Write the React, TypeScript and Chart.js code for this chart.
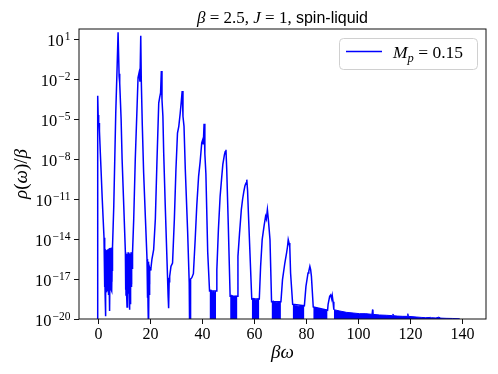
import React, { useEffect, useRef } from "react";
import { Chart, registerables } from "chart.js";

Chart.register(...registerables);

// ---- Data (βω and log10 of ρ(ω)/β) ----
const bw: number[] = [
  0.0, 0.08, 0.25, 0.45, 0.6, 0.75, 1.1, 1.4, 1.8, 2.17, 2.5, 2.68,
  2.76, 2.84, 2.92, 3.0, 3.08, 3.16, 3.24, 3.32, 3.4, 3.48, 3.56, 3.64, 3.72, 3.8, 3.88, 3.96,
  4.04, 4.12, 4.2, 4.28, 4.36, 4.44, 4.52, 4.6, 4.68, 4.76, 4.84, 4.92, 5.0, 5.08, 5.16, 5.24,
  5.32, 5.4, 5.48, 5.56, 5.64, 5.72, 5.8,
  6.25, 6.63, 7.0, 7.5, 7.9, 8.3, 8.45, 8.6, 9.06, 9.44, 10.08, 10.7,
  10.78, 10.86, 10.94, 11.02, 11.1, 11.18, 11.26, 11.34, 11.42, 11.5, 11.58, 11.66, 11.74, 11.82,
  11.9, 11.98, 12.06, 12.14, 12.22, 12.3, 12.38, 12.46, 12.54, 12.62, 12.7, 12.78, 12.86, 12.94,
  13.02, 13.1, 13.18, 13.3, 13.45,
  13.9, 14.5, 15.2, 15.56, 15.94, 16.3, 16.6, 16.8, 17.2, 17.7, 18.4, 19.0,
  19.08, 19.16, 19.24, 19.32, 19.4, 19.48, 19.56, 19.64, 19.72, 19.8, 19.88, 19.96, 20.04, 20.12,
  20.3, 20.5,
  20.9, 21.55, 22.2, 22.8, 23.5, 23.85, 24.2, 24.5, 24.75, 25.1, 25.4, 26.0, 26.9, 27.1, 27.25,
  27.35, 27.5, 27.7, 28.2, 28.8, 29.5, 30.1, 30.7, 31.2, 31.75, 32.1, 32.5, 32.8, 33.2, 33.7,
  34.6, 35.2, 35.28, 35.36, 35.44, 35.52, 35.6, 35.68, 35.76, 35.84, 36.2, 36.8, 37.5, 38.1,
  38.8, 39.4, 40.0, 40.4, 40.6, 40.9, 41.2, 41.6, 42.3, 43.0,
  45.5, 45.8, 46.4, 47.06, 47.7, 48.1, 48.7, 49.0, 49.3, 49.6, 50.2, 50.9,
  53.7, 53.9, 54.5, 55.2, 55.7, 56.2, 56.6, 57.0, 57.3, 57.6, 57.9, 58.5, 59.2,
  62.1, 62.6, 63.2, 63.9, 64.5, 64.8, 65.2, 65.6, 66.2, 66.8,
  70.4, 71.0, 71.9, 72.6, 72.9, 73.2, 73.5, 73.8, 74.1, 74.9,
  79.4, 80.0, 80.8, 81.1, 81.5, 81.8, 82.1, 82.8,
  88.3, 88.5, 89.1, 89.5, 89.9, 90.1, 90.4, 90.7,
];

const logRho: number[] = [
  -25, -3.25, -4.7, -5.5, -5.3, -5.9, -7.6, -9.0, -10.9, -12.5, -13.9, -14.7,
  -17.6, -15.0, -18.1, -14.9, -16.9, -19.8, -15.1, -17.8, -14.9, -17.2, -15.0, -18.0, -14.8, -16.5, -15.2, -17.9,
  -14.9, -17.4, -15.0, -18.2, -14.8, -16.8, -15.1, -17.7, -14.7, -19.4, -15.0, -17.5, -14.8, -16.9, -14.9, -17.8,
  -14.7, -17.3, -14.8, -17.9, -14.7, -16.4, -14.6,
  -11.5, -8.0, -4.6, -1.3, 1.5, -1.8, -1.6, -2.3, -5.0, -8.0, -11.5, -15.0,
  -17.8, -15.2, -18.2, -15.3, -17.4, -15.1, -18.0, -19.1, -15.3, -17.7, -15.2, -18.3, -15.0, -16.9,
  -15.3, -18.1, -15.1, -17.5, -15.4, -19.3, -15.2, -17.9, -15.1, -18.9, -15.3, -17.2, -15.0, -16.8,
  -15.2, -17.6, -15.1, -16.2, -15.0,
  -12.5, -8.0, -4.0, -1.9, -1.55, -2.2, 1.25, -2.05, -5.5, -9.0, -12.5, -15.5,
  -17.3, -15.6, -18.4, -15.8, -19.1, -15.7, -21, -16.0, -20.5, -16.1, -18.2, -16.3, -17.6, -16.4,
  -16.3, -16.2,
  -15.5, -14.8, -12.5, -8.3, -3.8, -3.4, -3.05, -1.4, -3.55, -4.8, -7.5, -11.5, -17.0, -18.3, -16.9,
  -19.2, -17.2, -16.8, -16.05, -15.8, -12.5, -8.8, -6.05, -5.55, -4.55, -3.8, -2.9, -4.8, -5.55, -8.8,
  -13.5, -17.3, -21, -17.6, -20.6, -17.2, -21, -17.4, -19.6, -17.0, -16.9, -16.6, -14.0, -11.5,
  -9.3, -8.2, -6.8, -6.55, -6.9, -5.35, -7.6, -9.1, -15.0, -17.9,
  -17.9, -16.3, -13.3, -10.8, -9.3, -8.4, -7.7, -7.45, -7.3, -8.8, -13.0, -18.3,
  -18.3, -15.3, -13.6, -11.8, -11.0, -10.4, -10.0, -9.8, -9.55, -10.4, -12.0, -15.0, -18.5,
  -18.5, -16.05, -14.05, -13.05, -12.3, -12.5, -11.8, -12.6, -14.05, -18.7,
  -18.7, -17.05, -15.8, -15.0, -14.6, -14.05, -14.3, -14.6, -16.55, -18.9,
  -19.0, -17.55, -16.55, -16.4, -16.05, -16.3, -16.8, -19.1,
  -19.35, -18.9, -18.3, -18.2, -18.5, -18.25, -18.7, -19.3,
];

// Dense noise bands between the low peaks: top edge [βω, log10] and the log10 level they reach down to
const bandA: number[][] = [[2.7, -14.7], [3.3, -14.9], [4.0, -14.8], [4.7, -14.7], [5.3, -14.7], [5.8, -14.6]];
const bandABottom = -17.2;
const bandB: number[][] = [[10.75, -15.1], [11.4, -15.2], [12.1, -15.1], [12.8, -15.2], [13.4, -15.0]];
const bandBBottom = -17.4;
const bandC: number[][] = [[19.05, -15.6], [19.5, -15.8], [20.0, -16.1], [20.3, -16.3]];
const bandCBottom = -17.4;

// Noise floors that fill down below 1e-20: [βω, log10 ρ/β] along their top edge
const floor1: number[][] = [[43.0, -17.9], [43.5, -17.8], [44.0, -18.0], [44.5, -17.9], [45.0, -18.0], [45.5, -17.9]];
const floor2: number[][] = [[50.9, -18.3], [51.5, -18.2], [52.2, -18.35], [53.0, -18.3], [53.7, -18.3]];
const floor3: number[][] = [[59.2, -18.5], [60.0, -18.45], [60.8, -18.6], [61.5, -18.5], [62.1, -18.5]];
const floor4: number[][] = [[66.8, -18.7], [67.6, -18.65], [68.5, -18.8], [69.5, -18.7], [70.4, -18.75]];
const floor5: number[][] = [[74.9, -18.9], [76.0, -19.0], [77.2, -19.05], [78.3, -19.0], [79.4, -19.05]];
const floor6: number[][] = [[82.8, -19.1], [84.5, -19.2], [86.3, -19.3], [88.3, -19.35]];
const floor7: number[][] = [
  [90.7, -19.3], [93.0, -19.4], [95.5, -19.5], [98.1, -19.55], [100.6, -19.6], [103.0, -19.6],
  [105.3, -19.65], [105.5, -19.3], [105.7, -19.65], [108.3, -19.7], [110.8, -19.72], [113.2, -19.75],
  [113.4, -19.62], [113.6, -19.75], [115.0, -19.78], [117.2, -19.8], [119.0, -19.8], [119.1, -19.6],
  [119.3, -19.8], [122.3, -19.85], [124.2, -19.88], [126.0, -19.9], [127.9, -19.88], [128.1, -19.9],
  [129.9, -19.92], [131.1, -19.85], [131.3, -19.93], [133.8, -19.95], [136.3, -19.96], [139.0, -19.98],
];
const floors = [floor1, floor2, floor3, floor4, floor5, floor6, floor7];

const xTicks: number[] = [0, 20, 40, 60, 80, 100, 120, 140];
const yTickExponents: number[] = [1, -2, -5, -8, -11, -14, -17, -20];
const xRange: number[] = [-7.1, 149.1];
const yRangeExp: number[] = [-20, 1.75];
const seriesLabelMain = "M";
const seriesLabelSub = "p";
const seriesLabelRest = " = 0.15";

const SERIF = '"Liberation Serif", "DejaVu Serif", serif';
const SANS = '"Liberation Sans", "DejaVu Sans", sans-serif';
const BLUE = "#0000ff";

type Run = { text: string; font: string; dy?: number };

function drawRuns(ctx: CanvasRenderingContext2D, runs: Run[], x: number, y: number, align: "left" | "center") {
  let total = 0;
  const widths = runs.map((r) => {
    ctx.font = r.font;
    const w = ctx.measureText(r.text).width;
    total += w;
    return w;
  });
  let cur = align === "center" ? x - total / 2 : x;
  ctx.textAlign = "left";
  ctx.textBaseline = "alphabetic";
  runs.forEach((r, i) => {
    ctx.font = r.font;
    ctx.fillText(r.text, cur, y + (r.dy || 0));
    cur += widths[i];
  });
}

const decorPlugin = {
  id: "decor",
  afterDraw(chart: any) {
    const { ctx, chartArea: a, scales } = chart;
    const xs = scales.x;
    const ys = scales.y;
    ctx.save();
    ctx.strokeStyle = "#111";
    ctx.fillStyle = "#000";
    ctx.lineWidth = 1;
    // spines
    ctx.strokeRect(a.left, a.top, a.right - a.left, a.bottom - a.top);

    // x ticks
    ctx.font = `16px ${SERIF}`;
    ctx.textAlign = "center";
    ctx.textBaseline = "alphabetic";
    for (const t of xTicks) {
      const px = Math.round(xs.getPixelForValue(t)) + 0.5;
      ctx.beginPath();
      ctx.moveTo(px, a.bottom);
      ctx.lineTo(px, a.bottom + 5);
      ctx.stroke();
      ctx.fillText(String(t), px, a.bottom + 20);
    }

    // y ticks
    for (const e of yTickExponents) {
      const py = Math.round(ys.getPixelForValue(Math.pow(10, e))) + 0.5;
      ctx.beginPath();
      ctx.moveTo(a.left - 5, py);
      ctx.lineTo(a.left, py);
      ctx.stroke();
      const expText = e < 0 ? "\u2212" + String(-e) : String(e);
      ctx.font = `16.5px ${SERIF}`;
      const wBase = ctx.measureText("10").width;
      ctx.font = `11.5px ${SERIF}`;
      const wExp = ctx.measureText(expText).width;
      const right = a.left - 8.5;
      const start = right - wExp - 1 - wBase;
      ctx.textAlign = "left";
      ctx.font = `16.5px ${SERIF}`;
      ctx.fillText("10", start, py + 6);
      ctx.font = `11.5px ${SERIF}`;
      ctx.fillText(expText, start + wBase + 1, py + 0.5);
    }

    // x label
    drawRuns(ctx, [{ text: "\u03b2\u03c9", font: `italic 19px ${SERIF}` }], (a.left + a.right) / 2, 358, "center");

    // y label (rotated)
    ctx.save();
    ctx.translate(27, (a.top + a.bottom) / 2);
    ctx.rotate(-Math.PI / 2);
    drawRuns(
      ctx,
      [
        { text: "\u03c1", font: `italic 19px ${SERIF}` },
        { text: "(", font: `19px ${SERIF}` },
        { text: "\u03c9", font: `italic 19px ${SERIF}` },
        { text: ")/", font: `19px ${SERIF}` },
        { text: "\u03b2", font: `italic 19px ${SERIF}` },
      ],
      0,
      0,
      "center"
    );
    ctx.restore();

    // title
    drawRuns(
      ctx,
      [
        { text: "\u03b2", font: `italic 17px ${SERIF}` },
        { text: " = 2.5, ", font: `17px ${SERIF}` },
        { text: "J", font: `italic 17px ${SERIF}` },
        { text: " = 1, ", font: `17px ${SERIF}` },
        { text: "spin-liquid", font: `16px ${SANS}` },
      ],
      (a.left + a.right) / 2,
      23,
      "center"
    );

    // legend
    const lx = 339.5, ly = 38.5, lw = 138, lh = 31, r = 4;
    ctx.beginPath();
    ctx.moveTo(lx + r, ly);
    ctx.lineTo(lx + lw - r, ly);
    ctx.quadraticCurveTo(lx + lw, ly, lx + lw, ly + r);
    ctx.lineTo(lx + lw, ly + lh - r);
    ctx.quadraticCurveTo(lx + lw, ly + lh, lx + lw - r, ly + lh);
    ctx.lineTo(lx + r, ly + lh);
    ctx.quadraticCurveTo(lx, ly + lh, lx, ly + lh - r);
    ctx.lineTo(lx, ly + r);
    ctx.quadraticCurveTo(lx, ly, lx + r, ly);
    ctx.closePath();
    ctx.fillStyle = "rgba(255,255,255,0.8)";
    ctx.fill();
    ctx.strokeStyle = "#d0d0d0";
    ctx.lineWidth = 1;
    ctx.stroke();
    ctx.strokeStyle = BLUE;
    ctx.lineWidth = 1.5;
    ctx.beginPath();
    ctx.moveTo(346, 51.5);
    ctx.lineTo(382, 51.5);
    ctx.stroke();
    ctx.fillStyle = "#000";
    drawRuns(
      ctx,
      [
        { text: seriesLabelMain, font: `italic 17.5px ${SERIF}` },
        { text: seriesLabelSub, font: `italic 12.5px ${SERIF}`, dy: 3.5 },
        { text: seriesLabelRest, font: `17.5px ${SERIF}` },
      ],
      393,
      58,
      "left"
    );
    ctx.restore();
  },
};

export default function App() {
  const ref = useRef<HTMLCanvasElement>(null);
  useEffect(() => {
    document.body.style.margin = "0";
    const toPts = (arr: number[][]) => arr.map(([x, d]) => ({ x, y: Math.pow(10, d) }));
    const mainData = bw.map((x, i) => ({ x, y: Math.pow(10, logRho[i]) }));
    const filled = (pts: number[][], fill: any) => ({
      label: "noise",
      data: toPts(pts),
      borderColor: BLUE,
      backgroundColor: BLUE,
      borderWidth: 1,
      pointRadius: 0,
      fill,
      tension: 0,
    });
    const floorSets = floors.map((f) => filled(f, "start"));
    const bandSets = [
      filled(bandA, { value: Math.pow(10, bandABottom) }),
      filled(bandB, { value: Math.pow(10, bandBBottom) }),
      filled(bandC, { value: Math.pow(10, bandCBottom) }),
    ];
    const chart = new Chart(ref.current as HTMLCanvasElement, {
      type: "line",
      data: {
        datasets: [
          {
            label: "main",
            data: mainData,
            borderColor: BLUE,
            backgroundColor: BLUE,
            borderWidth: 1.5,
            pointRadius: 0,
            fill: false,
            tension: 0,
          },
          ...bandSets,
          ...floorSets,
        ] as any,
      },
      options: {
        animation: false,
        responsive: false,
        devicePixelRatio: 1,
        parsing: false,
        normalized: true,
        events: [],
        layout: { padding: { top: 29, right: 12, left: 0, bottom: 0 } },
        plugins: {
          legend: { display: false },
          title: { display: false },
          tooltip: { enabled: false },
        },
        scales: {
          x: {
            type: "linear",
            min: xRange[0],
            max: xRange[1],
            grid: { display: false },
            border: { display: false },
            ticks: { display: false },
            afterFit: (s: any) => {
              s.height = 55;
            },
          },
          y: {
            type: "logarithmic",
            min: Math.pow(10, yRangeExp[0]),
            max: Math.pow(10, yRangeExp[1]),
            grid: { display: false },
            border: { display: false },
            ticks: { display: false },
            afterFit: (s: any) => {
              s.width = 79;
            },
          },
        },
      } as any,
      plugins: [decorPlugin],
    });
    return () => chart.destroy();
  }, []);
  return (
    <div style={{ position: "absolute", left: 0, top: 0, width: 498, height: 374, background: "#fff" }}>
      <canvas ref={ref} width={498} height={374} style={{ display: "block", width: 498, height: 374 }} />
    </div>
  );
}
